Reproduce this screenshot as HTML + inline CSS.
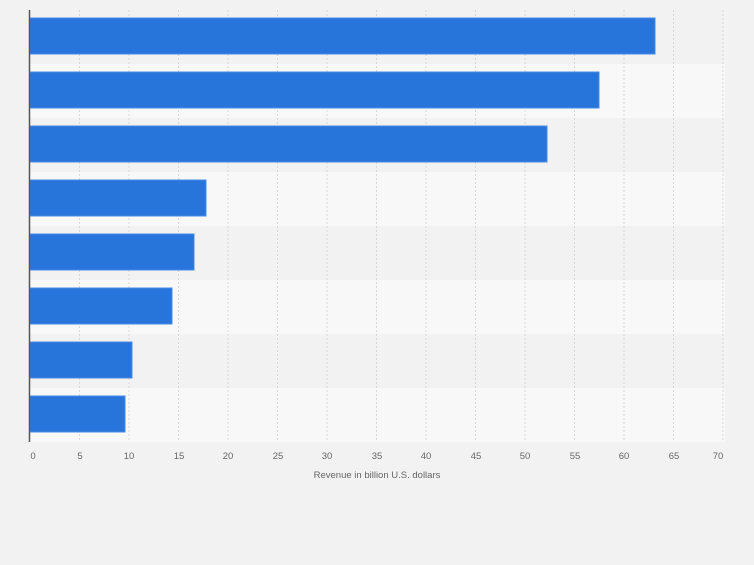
<!DOCTYPE html><html><head><style>body{margin:0;background:#f2f2f2;width:754px;height:560px;overflow:hidden;font-family:"Liberation Sans",sans-serif}</style></head><body>
<svg width="754" height="560" xmlns="http://www.w3.org/2000/svg">
<rect width="754" height="560" fill="#f2f2f2"/>
<g>
<rect x="30" y="10" width="695" height="54" fill="#f2f2f2"/>
<rect x="30" y="64" width="695" height="54" fill="#f8f8f8"/>
<rect x="30" y="118" width="695" height="54" fill="#f2f2f2"/>
<rect x="30" y="172" width="695" height="54" fill="#f8f8f8"/>
<rect x="30" y="226" width="695" height="54" fill="#f2f2f2"/>
<rect x="30" y="280" width="695" height="54" fill="#f8f8f8"/>
<rect x="30" y="334" width="695" height="54" fill="#f2f2f2"/>
<rect x="30" y="388" width="695" height="54" fill="#f8f8f8"/>
</g>
<g stroke="#d8d8d8" stroke-dasharray="2,2" stroke-width="1">
<line x1="79.5" y1="10" x2="79.5" y2="442"/><line x1="129" y1="10" x2="129" y2="442"/><line x1="178.5" y1="10" x2="178.5" y2="442"/><line x1="228" y1="10" x2="228" y2="442"/><line x1="277.5" y1="10" x2="277.5" y2="442"/><line x1="327" y1="10" x2="327" y2="442"/><line x1="376.5" y1="10" x2="376.5" y2="442"/><line x1="426" y1="10" x2="426" y2="442"/><line x1="475.5" y1="10" x2="475.5" y2="442"/><line x1="525" y1="10" x2="525" y2="442"/><line x1="574.5" y1="10" x2="574.5" y2="442"/><line x1="624" y1="10" x2="624" y2="442"/><line x1="673.5" y1="10" x2="673.5" y2="442"/><line x1="723" y1="10" x2="723" y2="442"/>
</g>
<g fill="#2775db" stroke="#4a8ce4" stroke-width="1">
<rect x="30" y="18" width="625" height="36"/>
<rect x="30" y="72" width="569" height="36"/>
<rect x="30" y="126" width="517" height="36"/>
<rect x="30" y="180" width="176" height="36"/>
<rect x="30" y="234" width="164" height="36"/>
<rect x="30" y="288" width="142" height="36"/>
<rect x="30" y="342" width="102" height="36"/>
<rect x="30" y="396" width="95" height="36"/>
</g>
<line x1="29.5" y1="10" x2="29.5" y2="442" stroke="#555" stroke-width="1.5"/>
<g font-size="9.5" fill="#666" text-anchor="middle">
<text x="33" y="459">0</text><text x="80" y="459">5</text><text x="129" y="459">10</text><text x="179" y="459">15</text><text x="228" y="459">20</text><text x="278" y="459">25</text><text x="327" y="459">30</text><text x="377" y="459">35</text><text x="426" y="459">40</text><text x="476" y="459">45</text><text x="525" y="459">50</text><text x="575" y="459">55</text><text x="624" y="459">60</text><text x="674" y="459">65</text><text x="718" y="459">70</text>
<text x="377" y="478">Revenue in billion U.S. dollars</text>
</g>
</svg></body></html>
